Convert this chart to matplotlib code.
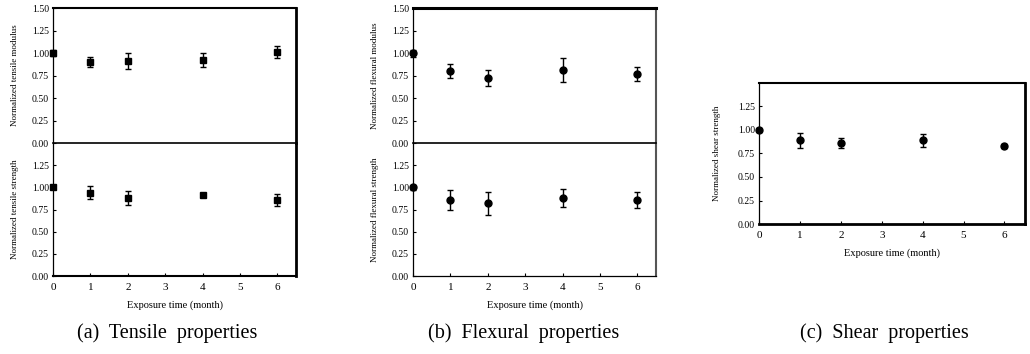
import matplotlib
matplotlib.use('Agg')
import matplotlib.pyplot as plt

plt.rcParams['font.family'] = ['Liberation Serif', 'DejaVu Serif']

# ── Data ───────────────────────────────────────────────────────────────────
months = [0, 1, 2, 4, 6]

tens_mod = [1.00, 0.90, 0.91, 0.92, 1.01]
tens_mod_err = [0.03, 0.06, 0.09, 0.08, 0.07]
tens_str = [1.00, 0.94, 0.88, 0.91, 0.86]
tens_str_err = [0.02, 0.07, 0.08, 0.02, 0.07]

flex_mod = [1.00, 0.80, 0.72, 0.81, 0.77]
flex_mod_err = [0.04, 0.075, 0.09, 0.13, 0.08]
flex_str = [1.00, 0.86, 0.82, 0.88, 0.86]
flex_str_err = [0.03, 0.11, 0.13, 0.10, 0.09]

shear_str = [1.00, 0.89, 0.86, 0.89, 0.83]
shear_str_err = [0.02, 0.08, 0.05, 0.07, 0.02]

yticks_full = [0.00, 0.25, 0.50, 0.75, 1.00, 1.25, 1.50]
yticks_low = [0.00, 0.25, 0.50, 0.75, 1.00, 1.25]
xticks = [0, 1, 2, 3, 4, 5, 6]

TS = 7  # tick font size
LS = 6.5  # y label font size
XS = 7.5  # x label font size

fig = plt.figure(figsize=(10.30, 3.54), dpi=100)


def style(ax, yt, show_x):
    ax.set_xlim(0, 6.5)
    ax.set_ylim(0, 1.5)
    ax.set_yticks(yt)
    ax.set_yticklabels([f'{v:.2f}' for v in yt], fontsize=TS)
    ax.set_xticks(xticks)
    if show_x:
        ax.set_xticklabels([str(v) for v in xticks], fontsize=TS + 1)
    else:
        ax.set_xticklabels([])
        ax.tick_params(axis='x', bottom=False)
    ax.tick_params(axis='y', direction='in', length=2, width=0.8, pad=3)
    ax.tick_params(axis='x', direction='in', length=2, width=0.8, pad=5)
    for s in ax.spines.values():
        s.set_linewidth(0.9)


def points(ax, y, err, marker):
    ax.errorbar(months, y, yerr=err, fmt=marker, color='black', ms=5,
                capsize=2, elinewidth=1, capthick=1, clip_on=False, zorder=3)


# ── (a) Tensile properties ─────────────────────────────────────────────────
ax2 = fig.add_axes([0.0515, 0.220, 0.236, 0.376])
ax1 = fig.add_axes([0.0515, 0.596, 0.236, 0.381])
points(ax1, tens_mod, tens_mod_err, 's')
points(ax2, tens_str, tens_str_err, 's')
style(ax1, yticks_full, False)
style(ax2, yticks_low, True)
ax1.spines['right'].set_linewidth(2)
ax1.spines['top'].set_linewidth(1.5)
ax1.spines['bottom'].set_linewidth(1.2)
ax2.spines['right'].set_linewidth(2)
ax2.spines['bottom'].set_linewidth(1.5)
ax2.spines['top'].set_visible(False)
ax1.set_ylabel('Normalized tensile modulus', fontsize=LS, labelpad=9)
ax2.set_ylabel('Normalized tensile strength', fontsize=LS, labelpad=9)
ax2.set_xlabel('Exposure time (month)', fontsize=XS, labelpad=6)

# ── (b) Flexural properties ────────────────────────────────────────────────
ax4 = fig.add_axes([0.401, 0.220, 0.236, 0.376])
ax3 = fig.add_axes([0.401, 0.596, 0.236, 0.381])
points(ax3, flex_mod, flex_mod_err, 'o')
points(ax4, flex_str, flex_str_err, 'o')
style(ax3, yticks_full, False)
style(ax4, yticks_low, True)
ax3.spines['top'].set_linewidth(2.2)
ax3.spines['bottom'].set_linewidth(1.2)
for a in (ax3, ax4):
    a.spines['right'].set_linestyle((0, (1, 1)))
    a.spines['right'].set_linewidth(1.5)
    a.spines['right'].set_color('#555555')
ax4.spines['top'].set_visible(False)
ax3.set_ylabel('Normalized flexural modulus', fontsize=LS, labelpad=9)
ax4.set_ylabel('Normalized flexural strength', fontsize=LS, labelpad=9)
ax4.set_xlabel('Exposure time (month)', fontsize=XS, labelpad=6)

# ── (c) Shear properties ───────────────────────────────────────────────────
ax5 = fig.add_axes([0.737, 0.367, 0.258, 0.399])
points(ax5, shear_str, shear_str_err, 'o')
style(ax5, yticks_low, True)
ax5.spines['right'].set_linewidth(2)
ax5.spines['bottom'].set_linewidth(2)
ax5.spines['top'].set_linewidth(1.5)
ax5.set_ylabel('Normalized shear strength', fontsize=LS, labelpad=12)
ax5.set_xlabel('Exposure time (month)', fontsize=XS, labelpad=6)

# ── Captions ───────────────────────────────────────────────────────────────
fig.text(0.162, 0.058, '(a)  Tensile  properties', ha='center', va='center', fontsize=14.5)
fig.text(0.508, 0.058, '(b)  Flexural  properties', ha='center', va='center', fontsize=14.5)
fig.text(0.859, 0.058, '(c)  Shear  properties', ha='center', va='center', fontsize=14.5)

fig.savefig('out.png', dpi=100)
